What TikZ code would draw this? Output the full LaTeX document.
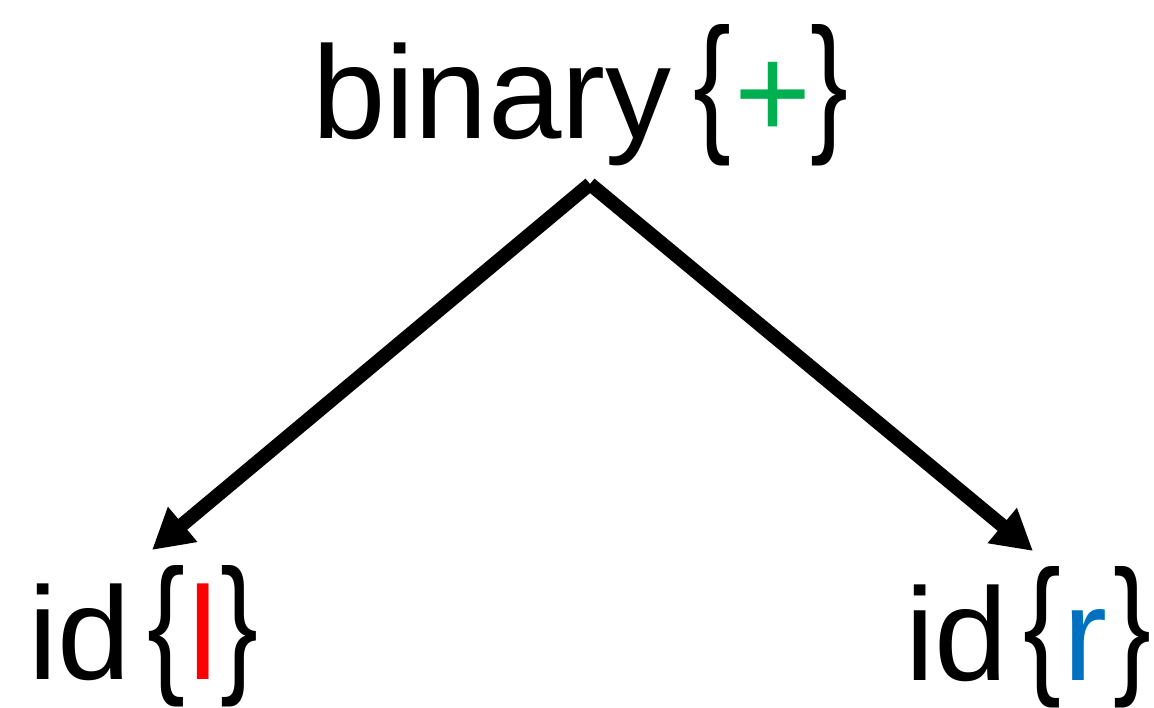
\documentclass[tikz,border=0pt]{standalone}
\usepackage{fontspec}
\usepackage{graphicx}
\setmainfont{Liberation Sans}
\usetikzlibrary{arrows.meta}
\definecolor{plusgreen}{RGB}{0,176,80}
\definecolor{rblue}{RGB}{0,112,192}
\definecolor{lred}{RGB}{255,0,0}
\newcommand\mylb{\raisebox{4pt}{\scalebox{0.86}[1.15]{\{}}}
\newcommand\myrb{\raisebox{4pt}{\scalebox{0.86}[1.15]{\}}}}
\begin{document}
\begin{tikzpicture}[x=1pt,y=-1pt,
  lbl/.style={inner sep=0pt,anchor=base west,font=\fontsize{132}{140}\selectfont},
  edge/.style={line width=14pt,-{Triangle[length=40pt,width=43pt]}}]
\useasboundingbox (0,0) rectangle (1154,708);
\node[lbl] (top) at (312,139) {binary\kern22pt\mylb\kern3pt\textcolor{plusgreen}{+}\kern-1pt\myrb};
\node[lbl] (left) at (28,679) {id\kern17pt\mylb\kern3pt\textcolor{lred}{l}\kern2pt\myrb};
\node[lbl] (right) at (905,680) {id\kern16pt\mylb\kern2pt\textcolor{rblue}{r}\kern6pt\myrb};
\coordinate (apex) at (590,184);
\coordinate (ltip) at (152,550);
\coordinate (rtip) at (1033,551);
\draw[edge] (apex) -- (ltip);
\draw[edge] (apex) -- (rtip);
\end{tikzpicture}
\end{document}
